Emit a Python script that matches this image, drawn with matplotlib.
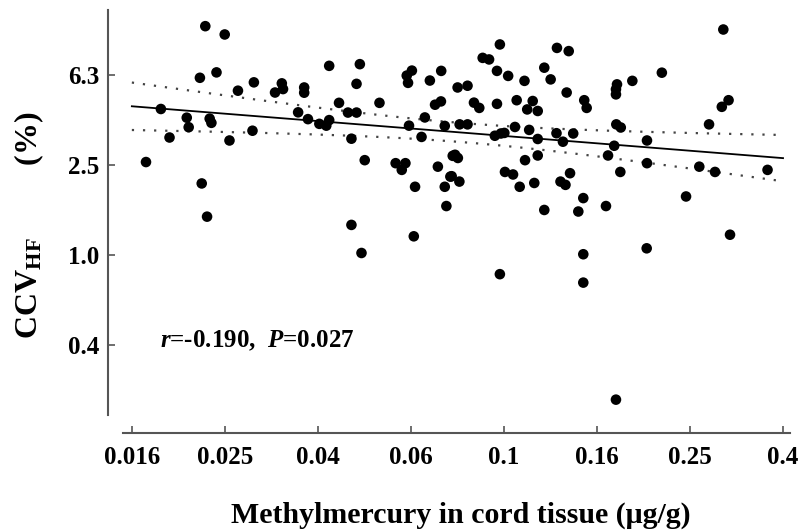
import numpy as np
import matplotlib
matplotlib.use("Agg")
import matplotlib.pyplot as plt

# methylmercury in cord tissue (ug/g) and CCV_HF (%)
mehg = [0.0228, 0.0251, 0.0241, 0.0222, 0.0268, 0.0183, 0.0208, 0.0210, 0.0233, 0.0235,
        0.0191, 0.0257, 0.0170, 0.0224, 0.0230, 0.0290, 0.0322, 0.0333, 0.0335, 0.0372,
        0.0372, 0.0421, 0.0442, 0.0361, 0.0379, 0.0401, 0.0415, 0.0421, 0.0288, 0.0490,
        0.0482, 0.0540, 0.0462, 0.0482, 0.0470, 0.0618, 0.0634, 0.0622, 0.0733, 0.0693,
        0.0711, 0.0732, 0.0676, 0.0625, 0.0746, 0.0665, 0.0502, 0.0585, 0.0614, 0.0603,
        0.0776, 0.0721, 0.0767, 0.0644, 0.0746, 0.0752, 0.0470, 0.0640, 0.0494, 0.0980,
        0.0900, 0.0929, 0.0966, 0.1021, 0.1107, 0.0795, 0.0835, 0.1300, 0.1221, 0.1260,
        0.1378, 0.1364, 0.0862, 0.0885, 0.0966, 0.1065, 0.1122, 0.1153, 0.1182, 0.0803,
        0.0835, 0.0956, 0.0985, 0.1002, 0.1056, 0.1133, 0.1182, 0.1297, 0.1339, 0.1409,
        0.0785, 0.0796, 0.1110, 0.1182, 0.0772, 0.0802, 0.1005, 0.1046, 0.1081, 0.1162,
        0.1323, 0.1356, 0.1221, 0.0980, 0.2185, 0.1888, 0.1750, 0.1741, 0.1741, 0.1488,
        0.1506, 0.1744, 0.1783, 0.1726, 0.2030, 0.1674, 0.2030, 0.1779, 0.1387, 0.1481,
        0.1445, 0.1657, 0.2027, 0.1481, 0.1481, 0.1741, 0.2962, 0.3040, 0.2940, 0.2760,
        0.2630, 0.2843, 0.3687, 0.2463, 0.3062]
ccv = [10.42, 9.57, 6.49, 6.14, 5.38, 4.46, 4.08, 3.70, 4.04, 3.87,
       3.33, 3.23, 2.59, 2.08, 1.48, 5.86, 5.28, 5.80, 5.47, 5.56,
       5.27, 6.94, 4.75, 4.31, 4.02, 3.83, 3.76, 3.98, 3.57, 7.06,
       5.77, 4.75, 4.30, 4.30, 3.29, 6.28, 6.61, 5.83, 6.59, 5.97,
       4.66, 4.82, 4.09, 3.76, 3.75, 3.35, 2.64, 2.56, 2.56, 2.39,
       2.76, 2.47, 2.23, 2.01, 2.01, 1.65, 1.36, 1.21, 1.02, 8.64,
       7.53, 7.41, 6.59, 6.26, 5.95, 5.56, 5.66, 8.34, 6.81, 6.04,
       8.07, 5.28, 4.76, 4.51, 4.70, 4.88, 4.44, 4.84, 4.37, 3.81,
       3.81, 3.39, 3.47, 3.49, 3.71, 3.60, 3.28, 3.48, 3.19, 3.47,
       2.79, 2.70, 2.64, 2.77, 2.24, 2.12, 2.34, 2.28, 2.01, 2.09,
       2.12, 2.05, 1.585, 0.821, 6.47, 5.95, 5.74, 5.46, 5.18, 4.88,
       4.51, 3.81, 3.69, 3.06, 3.23, 2.77, 2.56, 2.34, 2.31, 1.79,
       1.56, 1.65, 1.07, 1.007, 0.753, 0.227, 10.07, 4.88, 4.56, 3.81,
       2.47, 2.34, 2.39, 1.82, 1.23]

xtick_vals = [0.01585, 0.02512, 0.03981, 0.0631, 0.1, 0.1585, 0.2512, 0.3981]
xtick_labels = ["0.016", "0.025", "0.04", "0.06", "0.1", "0.16", "0.25", "0.4"]
ytick_vals = [0.3981, 1.0, 2.512, 6.31]
ytick_labels = ["0.4", "1.0", "2.5", "6.3"]
stats_text = "$r$=-0.190,  $P$=0.027"

plt.rcParams["font.family"] = "Liberation Serif"
plt.rcParams["font.weight"] = "bold"
plt.rcParams["mathtext.fontset"] = "custom"
plt.rcParams["mathtext.rm"] = "Liberation Serif:bold"
plt.rcParams["mathtext.it"] = "Liberation Serif:italic:bold"
plt.rcParams["mathtext.bf"] = "Liberation Serif:bold"

# log-log least squares fit with 95% confidence band
lx = np.log10(mehg)
ly = np.log10(ccv)
n = len(lx)
slope, icpt = np.polyfit(lx, ly, 1)
resid = ly - (slope * lx + icpt)
s = np.sqrt(np.sum(resid ** 2) / (n - 2))
sxx = np.sum((lx - lx.mean()) ** 2)
xf = np.linspace(np.log10(xtick_vals[0]), np.log10(xtick_vals[-1]), 200)
yf = slope * xf + icpt
hw = 1.98 * s * np.sqrt(1.0 / n + (xf - lx.mean()) ** 2 / sxx)

fig = plt.figure(figsize=(8.07, 5.31), dpi=100)
ax = fig.add_axes([0.1524, 0.2185, 0.8265, 0.7627])

ax.scatter(mehg, ccv, s=58, color="black", edgecolors="none", zorder=3)
ax.plot(10 ** xf, 10 ** yf, color="black", lw=1.3)
ax.plot(10 ** xf, 10 ** (yf + hw), color="#444444", lw=1.6, ls=(0, (1, 4)))
ax.plot(10 ** xf, 10 ** (yf - hw), color="#444444", lw=1.6, ls=(0, (1, 4)))

ax.set_xscale("log")
ax.set_yscale("log")
ax.set_xlim(0.01517, 0.412)
ax.set_ylim(0.194, 12.3)
ax.set_xticks(xtick_vals)
ax.set_xticklabels(xtick_labels)
ax.set_yticks(ytick_vals)
ax.set_yticklabels(ytick_labels)
ax.minorticks_off()

for side in ["top", "right"]:
    ax.spines[side].set_visible(False)
ax.spines["left"].set_position(("outward", 11))
ax.spines["bottom"].set_position(("outward", 13))
for side in ["left", "bottom"]:
    ax.spines[side].set_color("#555555")
    ax.spines[side].set_linewidth(1.5)
ax.tick_params(direction="in", length=5, width=1.2, color="#555555", labelsize=18)
ax.tick_params(axis="x", pad=9)
ax.tick_params(axis="y", pad=6)

ax.text(0.0555, 0.168, stats_text, transform=ax.transAxes, fontsize=18,
        va="baseline", ha="left")

fig.text(0.571, 0.03, "Methylmercury in cord tissue (\u03bcg/g)", fontsize=21.5,
         ha="center", va="center")
fig.text(0.036, 0.576, "CCV$_{\\rm HF}$         (%)", fontsize=23, rotation=90,
         ha="center", va="center")

fig.savefig("out.png", dpi=100)
